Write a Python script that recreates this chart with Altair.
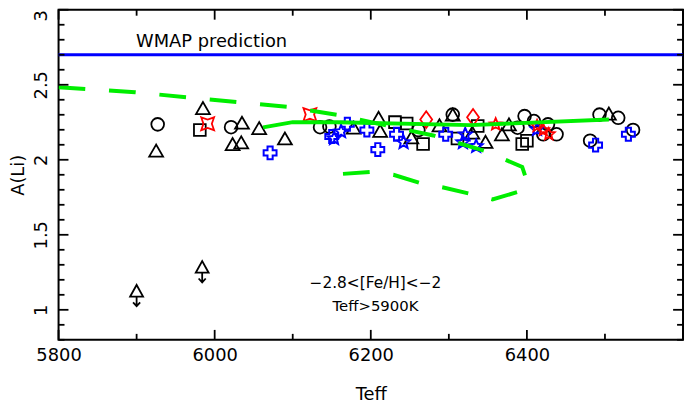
import altair as alt
import pandas as pd

# ---- axis tick values ----
X_MAJOR = [5800, 6000, 6200, 6400, 6600]
X_MINOR = [5900, 6100, 6300, 6500]
X_LABELS = [5800, 6000, 6200, 6400]
Y_MAJOR = [1.0, 1.5, 2.0, 2.5, 3.0]
Y_MINOR = [0.8, 0.9, 1.1, 1.2, 1.3, 1.4, 1.6, 1.7, 1.8, 1.9,
           2.1, 2.2, 2.3, 2.4, 2.6, 2.7, 2.8, 2.9]

# ---- data (Teff, A(Li)) ----
circle_teff = [5927, 6021, 6135, 6147, 6261, 6305, 6388, 6397, 6409, 6427, 6421, 6438, 6481, 6493, 6517, 6536]
circle_ali = [2.236, 2.217, 2.217, 2.221, 2.198, 2.301, 2.214, 2.291, 2.258, 2.236, 2.170, 2.170, 2.127, 2.301, 2.280, 2.199]

tri_teff = [5925, 5985, 6035, 6023, 6034, 6057, 6090, 6178, 6210, 6212, 6252, 6288, 6305, 6330, 6347, 6368, 6377, 6505]
tri_ali = [2.061, 2.345, 2.247, 2.105, 2.116, 2.211, 2.142, 2.214, 2.280, 2.193, 2.149, 2.230, 2.301, 2.181, 2.120, 2.170, 2.236, 2.308]

sq_teff = [5981, 6231, 6246, 6267, 6311, 6337, 6394, 6400]
sq_ali = [2.199, 2.251, 2.242, 2.105, 2.142, 2.225, 2.105, 2.127]

cross_teff = [6071, 6150, 6170, 6195, 6209, 6233, 6296, 6488, 6530]
cross_ali = [2.046, 2.155, 2.237, 2.198, 2.068, 2.170, 2.170, 2.098, 2.170]

bstar_teff = [6153, 6162, 6242, 6318, 6321, 6335, 6413]
bstar_ali = [2.142, 2.188, 2.116, 2.116, 2.168, 2.090, 2.203]

rdiam_teff = [6271, 6331]
rdiam_ali = [2.268, 2.283]

r4_teff = [5991, 6122]
r4_ali = [2.240, 2.301]

r5_teff = [6360, 6413, 6421, 6428]
r5_ali = [2.236, 2.225, 2.198, 2.170]

ul_teff = [5900, 5984]
ul_ali = [1.127, 1.286]

dash_teff = [5800, 5898, 5964, 6030, 6095, 6157, 6280, 6347, 6394, 6399, 6399,
             6356, 6326, 6293, 6262, 6229, 6199, 6164]
dash_ali = [2.483, 2.450, 2.417, 2.384, 2.352, 2.299, 2.162, 2.057, 1.952, 1.874, 1.802,
            1.736, 1.775, 1.815, 1.847, 1.900, 1.919, 1.906]

solid_teff = [6062, 6100, 6157, 6328, 6505]
solid_ali = [2.216, 2.251, 2.250, 2.231, 2.268]

wmap_ali = [2.7]

FONT = "DejaVu Sans"
GREEN = "#00ee00"
W, H = 630, 333

XS = alt.Scale(domain=[5800, 6600], nice=False, zero=False)
YS = alt.Scale(domain=[0.8, 3.0], nice=False, zero=False)


def frame(t, a):
    return pd.DataFrame({"teff": t, "ali": a})


main_x = alt.Axis(orient="bottom", values=X_LABELS, format="d", ticks=False, tickSize=0,
                  domain=False, grid=False, labelFontSize=18, labelFont=FONT,
                  labelColor="black", labelPadding=7, labelFlush=False,
                  title="Teff", titleFontSize=18, titleFont=FONT, titleFontWeight="normal",
                  titleColor="black", titlePadding=21)
main_y = alt.Axis(orient="left", values=Y_MAJOR, format="~g", ticks=False, tickSize=0,
                  domain=False, grid=False, labelFontSize=18, labelFont=FONT,
                  labelColor="black", labelAngle=270,
                  labelAlign={"condition": {"test": "datum.value >= 2.99", "value": "right"},
                              "value": "center"},
                  labelBaseline="alphabetic", labelPadding=12, labelFlush=False,
                  title="A(Li)", titleFontSize=18, titleFont=FONT, titleFontWeight="normal",
                  titleColor="black", titlePadding=5)


def points(t, a, shape, color, size, sw, xaxis=None, yaxis=None):
    return alt.Chart(frame(t, a)).mark_point(
        shape=shape, filled=False, color=color, size=size, strokeWidth=sw, opacity=1
    ).encode(
        x=alt.X("teff:Q", scale=XS, axis=xaxis),
        y=alt.Y("ali:Q", scale=YS, axis=yaxis),
    )


STAR = ("M0,-1 L0.265,-0.364 L0.951,-0.309 L0.428,0.139 L0.588,0.809 L0,0.45 "
        "L-0.588,0.809 L-0.428,0.139 L-0.951,-0.309 L-0.265,-0.364 Z")
DIAMOND = "M0,-1.4 L1,0 L0,1.4 L-1,0 Z"
STAR4 = "M-1,-1 L0,-0.65 L1,-1 L0.65,0 L1,1 L0,0.65 L-1,1 L-0.65,0 Z"
UPLIM = "M-1,0.9 L0,-0.9 L1,0.9 Z M0,0.9 L0,2.4 M-0.55,1.8 L0,2.4 L0.55,1.8"

circles = points(circle_teff, circle_ali, "circle", "black", 165, 1.8, main_x, main_y)
triangles = points(tri_teff, tri_ali, "triangle-up", "black", 196, 1.8)
squares = points(sq_teff, sq_ali, "square", "black", 140, 1.8)
crosses = points(cross_teff, cross_ali, "cross", "#0000ff", 169, 2)
bstars = points(bstar_teff, bstar_ali, STAR, "#0000ff", 185, 2)
rdiam = points(rdiam_teff, rdiam_ali, DIAMOND, "#ff0000", 144, 1.8)
r4 = points(r4_teff, r4_ali, STAR4, "#ff0000", 169, 1.8)
r5 = points(r5_teff, r5_ali, STAR, "#ff0000", 160, 1.8)
ulim = points(ul_teff, ul_ali, UPLIM, "black", 169, 1.8)

dash_df = pd.DataFrame({"teff": dash_teff, "ali": dash_ali, "i": list(range(len(dash_teff)))})
dashed = alt.Chart(dash_df).mark_line(color=GREEN, strokeWidth=4, strokeDash=[27, 24], clip=True).encode(
    x=alt.X("teff:Q", scale=XS, axis=None),
    y=alt.Y("ali:Q", scale=YS, axis=None),
    order=alt.Order("i:Q"),
)

solid_df = pd.DataFrame({"teff": solid_teff, "ali": solid_ali, "i": list(range(len(solid_teff)))})
solid = alt.Chart(solid_df).mark_line(color=GREEN, strokeWidth=4, clip=True).encode(
    x=alt.X("teff:Q", scale=XS, axis=None),
    y=alt.Y("ali:Q", scale=YS, axis=None),
    order=alt.Order("i:Q"),
)

wmap_line = alt.Chart(pd.DataFrame({"ali": wmap_ali})).mark_rule(color="#0000ff", strokeWidth=3).encode(
    y=alt.Y("ali:Q", scale=YS, axis=None)
)

labels_df = pd.DataFrame({
    "teff": [5996, 6206, 6206],
    "ali": [2.785, 1.179, 1.022],
    "label": ["WMAP prediction", "\u22122.8<[Fe/H]<\u22122", "Teff>5900K"],
    "fs": [18, 15.5, 15],
})
texts = alt.Chart(labels_df).mark_text(font=FONT, align="center", baseline="middle", color="black").encode(
    x=alt.X("teff:Q", scale=XS, axis=None),
    y=alt.Y("ali:Q", scale=YS, axis=None),
    text="label:N",
    size=alt.Size("fs:Q", scale=None, legend=None),
)


# ---- inward tick marks on all four sides (positions through the scales) ----
def xticks(values, y0, y1):
    return alt.Chart(pd.DataFrame({"v": values})).mark_rule(color="black", strokeWidth=1.8).encode(
        x=alt.X("v:Q", scale=XS, axis=None), y=alt.value(y0), y2=alt.value(y1))


def yticks(values, x0, x1):
    return alt.Chart(pd.DataFrame({"v": values})).mark_rule(color="black", strokeWidth=1.8).encode(
        y=alt.Y("v:Q", scale=YS, axis=None), x=alt.value(x0), x2=alt.value(x1))


ticks = [
    xticks(X_MAJOR, H, H - 10), xticks(X_MINOR, H, H - 6),
    xticks(X_MAJOR, 0, 10), xticks(X_MINOR, 0, 6),
    yticks(Y_MAJOR, 0, 10), yticks(Y_MINOR, 0, 6),
    yticks(Y_MAJOR, W, W - 10), yticks(Y_MINOR, W, W - 6),
]

chart = alt.layer(
    circles, triangles, squares, crosses, bstars, rdiam, r4, r5, ulim,
    dashed, solid, wmap_line, texts, *ticks
).resolve_axis(
    x="independent", y="independent"
).properties(
    width=W, height=H,
    autosize=alt.AutoSizeParams(type="none"),
    padding={"left": 51, "top": 0, "right": 2, "bottom": 64},
    background="white",
).configure_view(
    stroke="black", strokeWidth=2
)

chart.save("out.html", embed_options={"renderer": "svg", "actions": False})
